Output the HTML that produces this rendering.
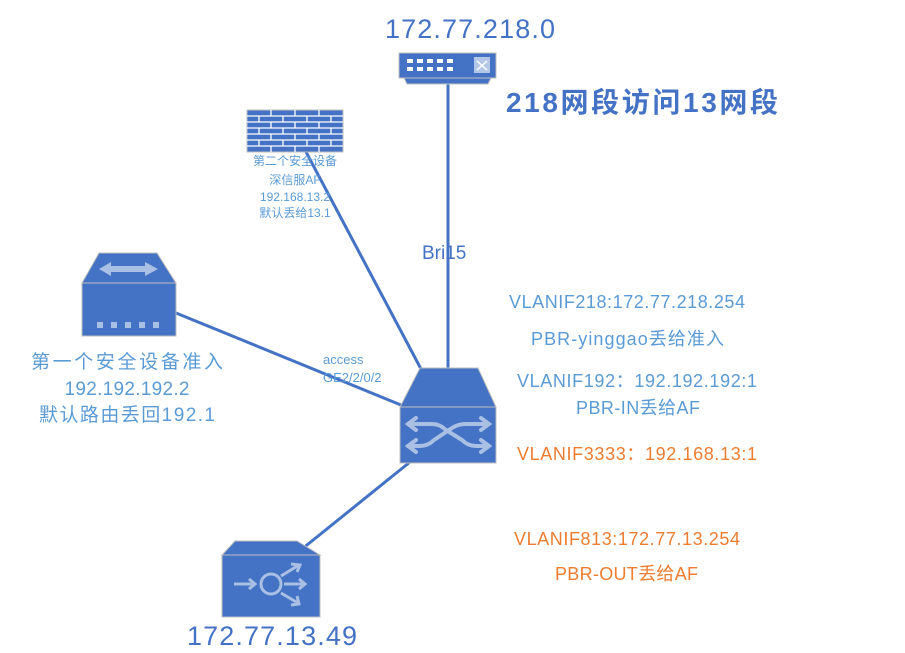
<!DOCTYPE html>
<html><head><meta charset="utf-8"><style>
html,body{margin:0;padding:0;background:#fff;}
svg{display:block;}
text{font-family:"Liberation Sans","Noto Sans CJK SC",sans-serif;}
</style></head><body>
<svg width="905" height="653" viewBox="0 0 905 653" xmlns="http://www.w3.org/2000/svg">
<g stroke="#4472c4" stroke-width="3" fill="none">
<line x1="448" y1="83" x2="448" y2="368"/>
<line x1="305" y1="150" x2="421" y2="369"/>
<line x1="176" y1="313" x2="401" y2="405"/>
<line x1="410" y1="462" x2="302" y2="549"/>
</g>
<rect x="399" y="53" width="97" height="25" fill="#4472c4" stroke="#bfbfbf" stroke-width="1"/>
<polygon points="404,78 491,78 488,84 407,84" fill="#4472c4" stroke="#bfbfbf" stroke-width="1"/>
<g fill="#fff">
<rect x="407" y="59" width="6" height="4"/><rect x="417" y="59" width="6" height="4"/><rect x="427" y="59" width="6" height="4"/><rect x="437" y="59" width="6" height="4"/><rect x="447" y="59" width="6" height="4"/>
<rect x="407" y="67" width="6" height="4"/><rect x="417" y="67" width="6" height="4"/><rect x="427" y="67" width="6" height="4"/><rect x="437" y="67" width="6" height="4"/><rect x="447" y="67" width="6" height="4"/>
</g>
<rect x="474" y="57" width="16" height="16" fill="#b4c7e7"/>
<path d="M477,61 L487,70 M477,70 L487,61" stroke="#fff" stroke-width="1.5"/>
<rect x="247" y="110" width="96" height="42" fill="#4472c4" stroke="#bfbfbf" stroke-width="1"/>
<g stroke="#fff" stroke-width="1.3">
<line x1="247" y1="116" x2="343" y2="116"/><line x1="247" y1="122" x2="343" y2="122"/><line x1="247" y1="128" x2="343" y2="128"/><line x1="247" y1="134" x2="343" y2="134"/><line x1="247" y1="140" x2="343" y2="140"/><line x1="247" y1="146" x2="343" y2="146"/>
<path d="M271,110v6M295,110v6M319,110v6M259,116v6M283,116v6M307,116v6M331,116v6M271,122v6M295,122v6M319,122v6M259,128v6M283,128v6M307,128v6M331,128v6M271,134v6M295,134v6M319,134v6M259,140v6M283,140v6M307,140v6M331,140v6M271,146v6M295,146v6M319,146v6"/>
</g>
<g font-size="12" fill="#5b9bd5" text-anchor="middle">
<text x="295" y="165">第二个安全设备</text>
<text x="295" y="184">深信服AF</text>
<text x="295" y="201">192.168.13.2</text>
<text x="295" y="217">默认丢给13.1</text>
</g>
<polygon points="99,253 157,253 176,283 82,283" fill="#4472c4" stroke="#bfbfbf" stroke-width="1"/>
<rect x="82" y="283" width="94" height="53" fill="#4472c4" stroke="#bfbfbf" stroke-width="1"/>
<polygon points="99,269 111,262 111,266 145,266 145,262 158,269 145,276 145,272 111,272 111,276" fill="#a9bfe3"/>
<g fill="#a9bfe3"><rect x="97" y="322" width="6" height="6"/><rect x="111" y="322" width="6" height="6"/><rect x="125" y="322" width="6" height="6"/><rect x="139" y="322" width="6" height="6"/><rect x="153" y="322" width="6" height="6"/></g>
<polygon points="420,368 478,368 496,407 400,407" fill="#4472c4" stroke="#bfbfbf" stroke-width="1"/>
<rect x="400" y="407" width="96" height="56" fill="#4472c4" stroke="#bfbfbf" stroke-width="1"/>
<g stroke="#a9bfe3" stroke-width="4" fill="none" stroke-linecap="round">
<path d="M408,424 L432,424 Q440,424 446,430 L462,440 Q468,446 476,446 L488,446"/>
<path d="M408,446 L420,446 Q428,446 434,440 L452,428 Q458,424 466,424 L488,424"/>
<path d="M416,418 L408,424 L416,430 M416,440 L408,446 L416,452 M481,418 L489,424 L481,430 M481,440 L489,446 L481,452"/>
</g>
<polygon points="235,541 297,541 320,555 222,555" fill="#4472c4" stroke="#bfbfbf" stroke-width="1"/>
<rect x="222" y="555" width="98" height="62" fill="#4472c4" stroke="#bfbfbf" stroke-width="1"/>
<g stroke="#a9bfe3" stroke-width="3" fill="none">
<circle cx="271" cy="584" r="10"/>
<path d="M234,584 L254,584 M249,579 L255,584 L249,589"/>
<path d="M284,584 L305,584 M299,579 L305,584 L299,589"/>
<path d="M281,576 L299,565 M291,564 L300,565 L297,572"/>
<path d="M281,593 L298,603 M297,596 L299,604 L291,605"/>
</g>
<text x="470" y="38" font-size="27" fill="#4472c4" text-anchor="middle" textLength="170">172.77.218.0</text>
<text x="506" y="112" font-size="28" fill="#4472c4" textLength="272" font-weight="bold">218网段访问13网段</text>
<text x="422" y="259" font-size="19" fill="#4472c4">Bri15</text>
<g fill="#5b9bd5" font-size="19" text-anchor="middle">
<text x="127" y="368" textLength="192">第一个安全设备准入</text>
<text x="127" y="395" textLength="125">192.192.192.2</text>
<text x="127" y="421" textLength="176">默认路由丢回192.1</text>
</g>
<text x="323" y="364" font-size="13" fill="#5b9bd5">access</text>
<text x="323" y="382" font-size="13" fill="#5b9bd5">GE2/2/0/2</text>
<g font-size="18" fill="#5b9bd5">
<text x="509" y="308" textLength="236">VLANIF218:172.77.218.254</text>
<text x="531" y="345" textLength="193">PBR-yinggao丢给准入</text>
<text x="517" y="387" textLength="240">VLANIF192：192.192.192:1</text>
<text x="576" y="414" textLength="124">PBR-IN丢给AF</text>
</g>
<g font-size="18" fill="#ed7d31">
<text x="517" y="460" textLength="240">VLANIF3333：192.168.13:1</text>
<text x="514" y="545" textLength="226">VLANIF813:172.77.13.254</text>
<text x="555" y="580" textLength="143">PBR-OUT丢给AF</text>
</g>
<text x="187" y="645" font-size="27" fill="#4472c4" textLength="170">172.77.13.49</text>
</svg>
</body></html>
